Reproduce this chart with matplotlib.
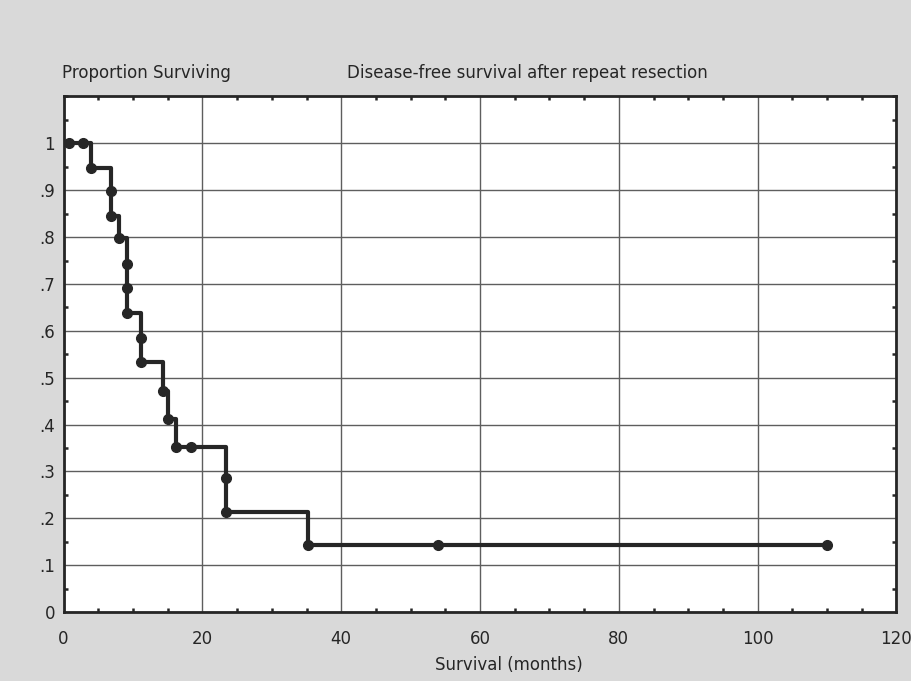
import matplotlib.pyplot as plt
from matplotlib.ticker import MultipleLocator

# Kaplan-Meier steps (time of drop, survival after drop)
step_months = [0, 4.0, 6.8, 8.0, 9.2, 11.1, 14.3, 15.1, 16.2, 23.4, 35.2, 110.0]
step_surv = [1.0, 0.947, 0.846, 0.797, 0.638, 0.533, 0.472, 0.412, 0.353, 0.213, 0.144, 0.144]

# individual observations drawn as dots
obs_months = [0.8, 2.8, 4.0, 6.8, 6.8, 8.0, 9.2, 9.2, 9.2, 11.1, 11.1,
              14.3, 15.1, 16.2, 18.4, 23.4, 23.4, 35.2, 54.0, 110.0]
obs_surv = [1.0, 1.0, 0.947, 0.898, 0.846, 0.797, 0.742, 0.692, 0.638, 0.584, 0.533,
            0.472, 0.412, 0.353, 0.353, 0.286, 0.213, 0.144, 0.144, 0.144]

y_ticks = [0, 0.1, 0.2, 0.3, 0.4, 0.5, 0.6, 0.7, 0.8, 0.9, 1.0]
y_labels = ['0', '.1', '.2', '.3', '.4', '.5', '.6', '.7', '.8', '.9', '1']
x_ticks = [0, 20, 40, 60, 80, 100, 120]

ink = '#262626'

fig = plt.figure(figsize=(9.12, 6.81), dpi=100, facecolor='#d9d9d9')
ax = fig.add_axes([0.0697, 0.1013, 0.9133, 0.757])
ax.set_facecolor('white')

ax.step(step_months, step_surv, where='post', color=ink, lw=3, zorder=3)
ax.plot(obs_months, obs_surv, 'o', color=ink, ms=7, zorder=4)

ax.set_xlim(0, 120)
ax.set_ylim(0, 1.1)
ax.set_xticks(x_ticks)
ax.set_yticks(y_ticks)
ax.set_yticklabels(y_labels)
ax.xaxis.set_minor_locator(MultipleLocator(5))
ax.yaxis.set_minor_locator(MultipleLocator(0.05))
ax.grid(True, which='major', color='#5e5e5e', lw=1)
ax.tick_params(which='major', length=0, labelsize=12, colors=ink)
ax.tick_params(axis='x', which='major', pad=13)
ax.tick_params(axis='y', which='major', pad=6)
ax.tick_params(which='minor', direction='in', length=3, width=1.8, color=ink,
               top=True, right=True)
for s in ax.spines.values():
    s.set_linewidth(2)
    s.set_color(ink)

fig.text(509 / 912, 1 - 665 / 681, 'Survival (months)', fontsize=12, color=ink,
         va='center', ha='center')
fig.text(62 / 912, 1 - 73 / 681, 'Proportion Surviving', fontsize=12,
         color=ink, va='center', ha='left')
fig.text(347 / 912, 1 - 73 / 681, 'Disease-free survival after repeat resection',
         fontsize=12, color=ink, va='center', ha='left')

fig.savefig('out.png', dpi=100, facecolor=fig.get_facecolor())
